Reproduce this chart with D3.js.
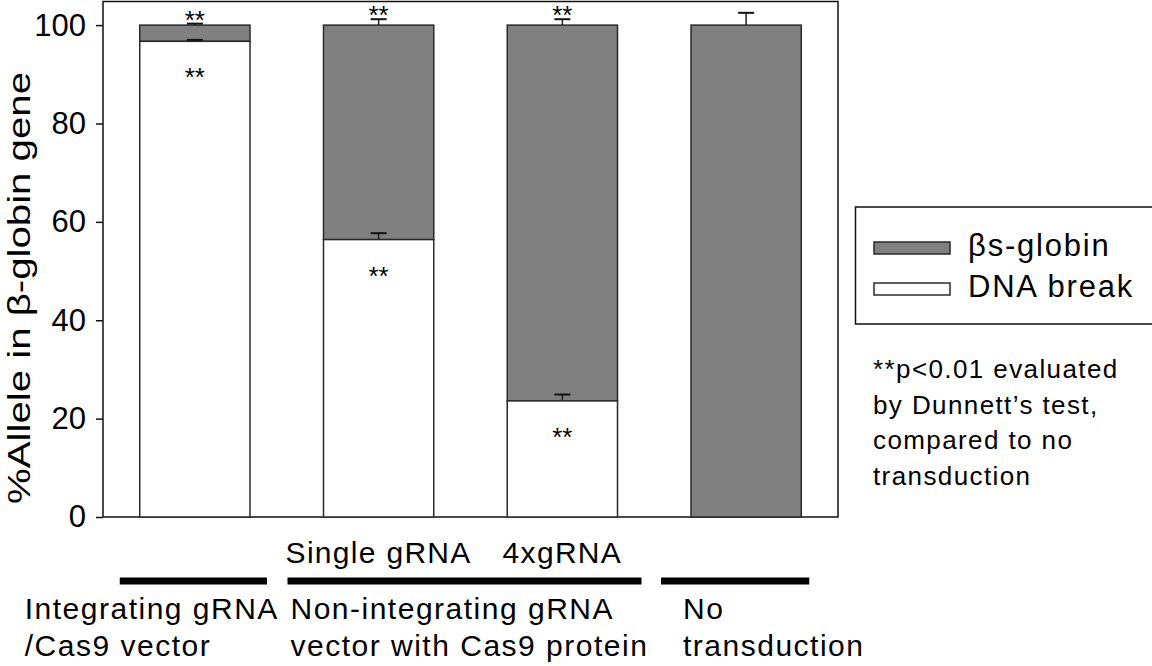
<!DOCTYPE html>
<html>
<head>
<meta charset="utf-8">
<script src="https://cdn.jsdelivr.net/npm/d3@7"></script>
<style>
  body { margin: 0; background: #fff; }
  svg { display: block; font-family: "Liberation Sans", Arial, sans-serif; }
</style>
</head>
<body>
<script>
// data
const groups = ["Integrating", "Single gRNA", "4xgRNA", "No transduction"];
const dnaBreak = [96.7, 56.4, 23.6, 0];
const dnaBreakErr = [0.3, 1.3, 1.3, 0];
const betaS = [3.3, 43.6, 76.4, 100];
const totalErr = [0.3, 1.2, 1.2, 2.5];
const starTop = [true, true, true, false];
const starInside = [true, true, true, false];
const yTicks = [0, 20, 40, 60, 80, 100];
const subLabels = ["", "Single gRNA", "4xgRNA", ""];
const noteLines = ["**p<0.01 evaluated", "by Dunnett\u2019s test,", "compared to no", "transduction"];

const width = 1152, height = 666;
const plotLeft = 103, plotRight = 838, plotTop = 1.5, plotBottom = 517;

const svg = d3.select("body")
              .append("svg")
              .attr("width", width)
              .attr("height", height);

const x = d3.scaleBand()
            .domain(groups)
            .range([plotLeft, plotRight])
            .paddingInner(0.4)
            .paddingOuter(0.2);

const y = d3.scaleLinear()
            .domain([0, 104.8])
            .range([plotBottom, plotTop]);

// frame
svg.append("rect")
   .attr("x", plotLeft).attr("y", plotTop)
   .attr("width", plotRight - plotLeft).attr("height", plotBottom - plotTop)
   .attr("fill", "none").attr("stroke", "#111").attr("stroke-width", 1.5);

// y axis
const yAxis = svg.append("g")
   .attr("transform", `translate(${plotLeft},0)`)
   .call(d3.axisLeft(y).tickValues(yTicks).tickSize(7).tickPadding(10));
yAxis.select(".domain").remove();
yAxis.selectAll("line").attr("stroke", "#111").attr("stroke-width", 1.5);
yAxis.selectAll("text")
     .attr("font-size", 31)
     .attr("font-family", "Liberation Sans, Arial, sans-serif")
     .attr("fill", "#000");

svg.append("text")
   .attr("transform", "translate(30,288) rotate(-90)")
   .attr("text-anchor", "middle")
   .attr("font-size", 32)
   .attr("textLength", 432)
   .attr("lengthAdjust", "spacingAndGlyphs")
   .text("%Allele in \u03b2-globin gene");

const bars = svg.append("g");

// grey top segment (βs-globin)
bars.selectAll("rect.bs")
    .data(groups)
    .join("rect")
    .attr("class", "bs")
    .attr("x", d => x(d))
    .attr("width", x.bandwidth())
    .attr("y", (d, i) => y(dnaBreak[i] + betaS[i]))
    .attr("height", (d, i) => y(dnaBreak[i]) - y(dnaBreak[i] + betaS[i]))
    .attr("fill", "#808080")
    .attr("stroke", "#2a2a2a")
    .attr("stroke-width", 1.5);

// white bottom segment (DNA break)
bars.selectAll("rect.dna")
    .data(groups.filter((d, i) => dnaBreak[i] > 0))
    .join("rect")
    .attr("class", "dna")
    .attr("x", d => x(d))
    .attr("width", x.bandwidth())
    .attr("y", d => y(dnaBreak[groups.indexOf(d)]))
    .attr("height", d => plotBottom - y(dnaBreak[groups.indexOf(d)]))
    .attr("fill", "#fff")
    .attr("stroke", "#2a2a2a")
    .attr("stroke-width", 1.5);

// error bars (upward only)
const capW = 16;
const errs = [];
groups.forEach((g, i) => {
  errs.push({ g, v: dnaBreak[i] + betaS[i], e: totalErr[i] });
  if (dnaBreak[i] > 0) errs.push({ g, v: dnaBreak[i], e: dnaBreakErr[i] });
});
const eb = bars.selectAll("g.err").data(errs).join("g").attr("class", "err");
eb.append("line")
  .attr("x1", d => x(d.g) + x.bandwidth() / 2)
  .attr("x2", d => x(d.g) + x.bandwidth() / 2)
  .attr("y1", d => y(d.v)).attr("y2", d => y(d.v + d.e))
  .attr("stroke", "#222").attr("stroke-width", 1.5);
eb.append("line")
  .attr("x1", d => x(d.g) + x.bandwidth() / 2 - capW / 2)
  .attr("x2", d => x(d.g) + x.bandwidth() / 2 + capW / 2)
  .attr("y1", d => y(d.v + d.e)).attr("y2", d => y(d.v + d.e))
  .attr("stroke", "#111").attr("stroke-width", 2);

// significance stars
bars.selectAll("text.top")
    .data(groups.filter((d, i) => starTop[i]))
    .join("text")
    .attr("class", "top")
    .attr("x", d => x(d) + x.bandwidth() / 2)
    .attr("y", d => { const i = groups.indexOf(d); return y(dnaBreak[i] + betaS[i] + totalErr[i]) + 5; })
    .attr("text-anchor", "middle")
    .attr("font-size", 26)
    .text("**");

bars.selectAll("text.in")
    .data(groups.filter((d, i) => starInside[i]))
    .join("text")
    .attr("class", "in")
    .attr("x", d => x(d) + x.bandwidth() / 2)
    .attr("y", d => y(dnaBreak[groups.indexOf(d)]) + 45)
    .attr("text-anchor", "middle")
    .attr("font-size", 26)
    .text("**");

// sub labels under bars
svg.append("g").selectAll("text")
   .data(groups.filter((d, i) => subLabels[i]))
   .join("text")
   .attr("x", d => x(d) + x.bandwidth() / 2)
   .attr("y", 563)
   .attr("text-anchor", "middle")
   .attr("font-size", 30)
   .attr("letter-spacing", 1.3)
   .text(d => subLabels[groups.indexOf(d)]);

// group underlines and labels
const groupDefs = [
  { from: groups[0], to: groups[0], l: -20, r: 17, tx: -115, lines: ["Integrating gRNA", "/Cas9 vector"] },
  { from: groups[1], to: groups[2], l: -36, r: 24, tx: -33, lines: ["Non-integrating gRNA", "vector with Cas9 protein"] },
  { from: groups[3], to: groups[3], l: -30, r: 8, tx: -8, lines: ["No", "transduction"] }
];
const gl = svg.append("g");
gl.selectAll("line")
  .data(groupDefs)
  .join("line")
  .attr("x1", d => x(d.from) + d.l)
  .attr("x2", d => x(d.to) + x.bandwidth() + d.r)
  .attr("y1", 581).attr("y2", 581)
  .attr("stroke", "#000").attr("stroke-width", 7);
gl.selectAll("text")
  .data(groupDefs)
  .join("text")
  .attr("x", d => x(d.from) + d.tx)
  .attr("y", 619)
  .attr("font-size", 30)
  .attr("letter-spacing", 1.5)
  .selectAll("tspan")
  .data(d => d.lines.map(t => ({ t, x0: x(d.from) + d.tx })))
  .join("tspan")
  .attr("x", d => d.x0)
  .attr("dy", (d, i) => i === 0 ? 0 : 37)
  .text(d => d.t);

// legend
const legend = svg.append("g");
legend.append("rect")
      .attr("x", 855.5).attr("y", 207)
      .attr("width", 320).attr("height", 117)
      .attr("fill", "#fff").attr("stroke", "#111").attr("stroke-width", 1.5);
const legendItems = [
  { label: "\u03b2s-globin", fill: "#808080" },
  { label: "DNA break", fill: "#fff" }
];
const li = legend.selectAll("g.item")
                 .data(legendItems)
                 .join("g")
                 .attr("class", "item")
                 .attr("transform", (d, i) => `translate(874,${242 + i * 41})`);
li.append("rect")
  .attr("width", 76).attr("height", 12)
  .attr("fill", d => d.fill)
  .attr("stroke", "#2a2a2a").attr("stroke-width", 1.5);
li.append("text")
  .attr("x", 94).attr("y", 14)
  .attr("font-size", 31)
  .attr("letter-spacing", 1.8)
  .text(d => d.label);

// note
svg.append("g").selectAll("text")
   .data(noteLines)
   .join("text")
   .attr("x", 873)
   .attr("y", (d, i) => 378 + i * 35.7)
   .attr("font-size", 26)
   .attr("letter-spacing", 1.4)
   .text(d => d);
</script>
</body>
</html>
